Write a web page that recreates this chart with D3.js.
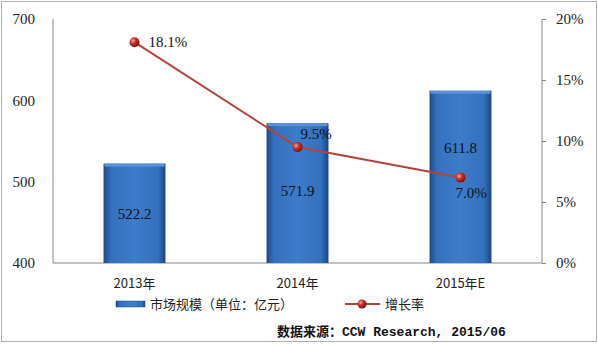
<!DOCTYPE html>
<html>
<head>
<meta charset="utf-8">
<script src="https://cdn.jsdelivr.net/npm/d3@7"></script>
<style>
  body { margin: 0; background: #fff; }
  svg { display: block; }
  .axis path, .axis line { stroke: #868686; }
  .axis text { font-family: "Liberation Serif", serif; font-size: 15px; fill: #222; }
</style>
</head>
<body>
<svg id="vec" width="598" height="346"></svg>
<script>
const years = ["2013年", "2014年", "2015年E"];
const marketSize = [522.2, 571.9, 611.8];
const growth = [18.1, 9.5, 7.0];
const leftTicks = [400, 500, 600, 700];
const rightTicks = [0, 5, 10, 15, 20];

const svg = d3.select("#vec");
const plotLeft = 53, plotRight = 542, plotTop = 19, plotBottom = 263;

// frame
svg.append("rect")
  .attr("x", 1.5).attr("y", 1.5)
  .attr("width", 595).attr("height", 340)
  .attr("fill", "none").attr("stroke", "#b0b0b0");

const defs = svg.append("defs");
const grad = defs.append("linearGradient").attr("id", "barGrad")
  .attr("x1", "0").attr("x2", "1").attr("y1", "0").attr("y2", "0");
grad.append("stop").attr("offset", "0%").attr("stop-color", "#1c4a88");
grad.append("stop").attr("offset", "12%").attr("stop-color", "#3470bd");
grad.append("stop").attr("offset", "50%").attr("stop-color", "#3d7ccb");
grad.append("stop").attr("offset", "88%").attr("stop-color", "#3470bd");
grad.append("stop").attr("offset", "100%").attr("stop-color", "#1a4580");

const sphere = defs.append("radialGradient").attr("id", "dot")
  .attr("cx", "35%").attr("cy", "35%").attr("r", "65%");
sphere.append("stop").attr("offset", "0%").attr("stop-color", "#f4a7a0");
sphere.append("stop").attr("offset", "45%").attr("stop-color", "#c8322a");
sphere.append("stop").attr("offset", "100%").attr("stop-color", "#7a1410");

const x = d3.scaleBand().domain(years).range([plotLeft, plotRight])
  .paddingInner(0.62).paddingOuter(0.31);
const y = d3.scaleLinear().domain([400, 700]).range([plotBottom, plotTop]);
const y2 = d3.scaleLinear().domain([0, 20]).range([plotBottom, plotTop]);

// left axis
const yAxis = svg.append("g").attr("class", "axis")
  .attr("transform", `translate(${plotLeft},0)`)
  .call(d3.axisLeft(y).tickValues(leftTicks).tickSize(0).tickPadding(18));
yAxis.select(".domain").remove();
svg.append("line").attr("x1", plotLeft).attr("x2", plotLeft).attr("y1", plotTop).attr("y2", plotBottom)
  .attr("stroke", "#868686");

// right axis
const y2Axis = svg.append("g").attr("class", "axis")
  .attr("transform", `translate(${plotRight},0)`)
  .call(d3.axisRight(y2).tickValues(rightTicks).tickSize(4).tickPadding(10)
    .tickFormat(d => d + "%"));
y2Axis.select(".domain").attr("d", `M0,${plotTop}V${plotBottom}`);

// baseline
svg.append("line").attr("x1", plotLeft).attr("x2", plotRight).attr("y1", plotBottom).attr("y2", plotBottom)
  .attr("stroke", "#868686");

// x labels
svg.append("g").selectAll("text").data(years).enter().append("text")
  .attr("x", d => x(d) + x.bandwidth() / 2)
  .attr("y", 288)
  .attr("text-anchor", "middle")
  .style("font-family", "'Noto Sans CJK SC', sans-serif")
  .style("font-size", "13px")
  .attr("fill", "#222")
  .text(d => d);

// bars
const bars = svg.append("g").selectAll("g").data(years).enter().append("g");
bars.append("rect")
  .attr("x", d => x(d))
  .attr("y", (d, i) => y(marketSize[i]))
  .attr("width", x.bandwidth())
  .attr("height", (d, i) => plotBottom - y(marketSize[i]))
  .attr("fill", "url(#barGrad)");
bars.append("rect")
  .attr("x", d => x(d) + 1)
  .attr("y", (d, i) => y(marketSize[i]))
  .attr("width", x.bandwidth() - 2)
  .attr("height", 3)
  .attr("fill", "#5b92d6");

const valueY = [216, 193, 150];
bars.append("text")
  .attr("x", d => x(d) + x.bandwidth() / 2)
  .attr("y", (d, i) => valueY[i])
  .attr("text-anchor", "middle")
  .attr("dominant-baseline", "middle")
  .style("font-family", "'Liberation Serif', serif")
  .style("font-size", "15px")
  .attr("fill", "#111")
  .text((d, i) => marketSize[i].toFixed(1));

// growth line
const cx = d => x(d) + x.bandwidth() / 2;
const line = d3.line().x((d, i) => cx(years[i])).y(d => y2(d));
svg.append("path").datum(growth)
  .attr("d", line)
  .attr("fill", "none")
  .attr("stroke", "#b5433a")
  .attr("stroke-width", 2);
svg.append("g").selectAll("circle").data(growth).enter().append("circle")
  .attr("cx", (d, i) => cx(years[i]))
  .attr("cy", d => y2(d))
  .attr("r", 5)
  .attr("fill", "url(#dot)");

const pctOffset = [[14, 1], [3, -12], [-5, 17]];
svg.append("g").selectAll("text").data(growth).enter().append("text")
  .attr("x", (d, i) => cx(years[i]) + pctOffset[i][0])
  .attr("y", (d, i) => y2(d) + pctOffset[i][1])
  .attr("dominant-baseline", "middle")
  .style("font-family", "'Liberation Serif', serif")
  .style("font-size", "15px")
  .attr("fill", "#111")
  .text(d => d.toFixed(1) + "%");

// legend
svg.append("rect").attr("x", 116).attr("y", 301).attr("width", 29).attr("height", 6)
  .attr("fill", "url(#barGrad)").attr("stroke", "#1c4a88").attr("stroke-width", 0.5);
svg.append("text").attr("x", 150).attr("y", 309)
  .style("font-family", "'Noto Sans CJK SC', sans-serif").style("font-size", "13px")
  .attr("fill", "#222").text("市场规模（单位：亿元）");
svg.append("line").attr("x1", 345).attr("x2", 380).attr("y1", 304).attr("y2", 304)
  .attr("stroke", "#b5433a").attr("stroke-width", 2);
svg.append("circle").attr("cx", 362).attr("cy", 304).attr("r", 4.5).attr("fill", "url(#dot)");
svg.append("text").attr("x", 385).attr("y", 309)
  .style("font-family", "'Noto Sans CJK SC', sans-serif").style("font-size", "13px")
  .attr("fill", "#222").text("增长率");

// source
svg.append("text").attr("x", 277).attr("y", 336)
  .style("font-family", "'Liberation Mono', 'Noto Sans CJK SC', monospace")
  .style("font-size", "13px").style("font-weight", "bold")
  .attr("fill", "#111").text("数据来源：CCW Research, 2015/06");
</script>
</body>
</html>
